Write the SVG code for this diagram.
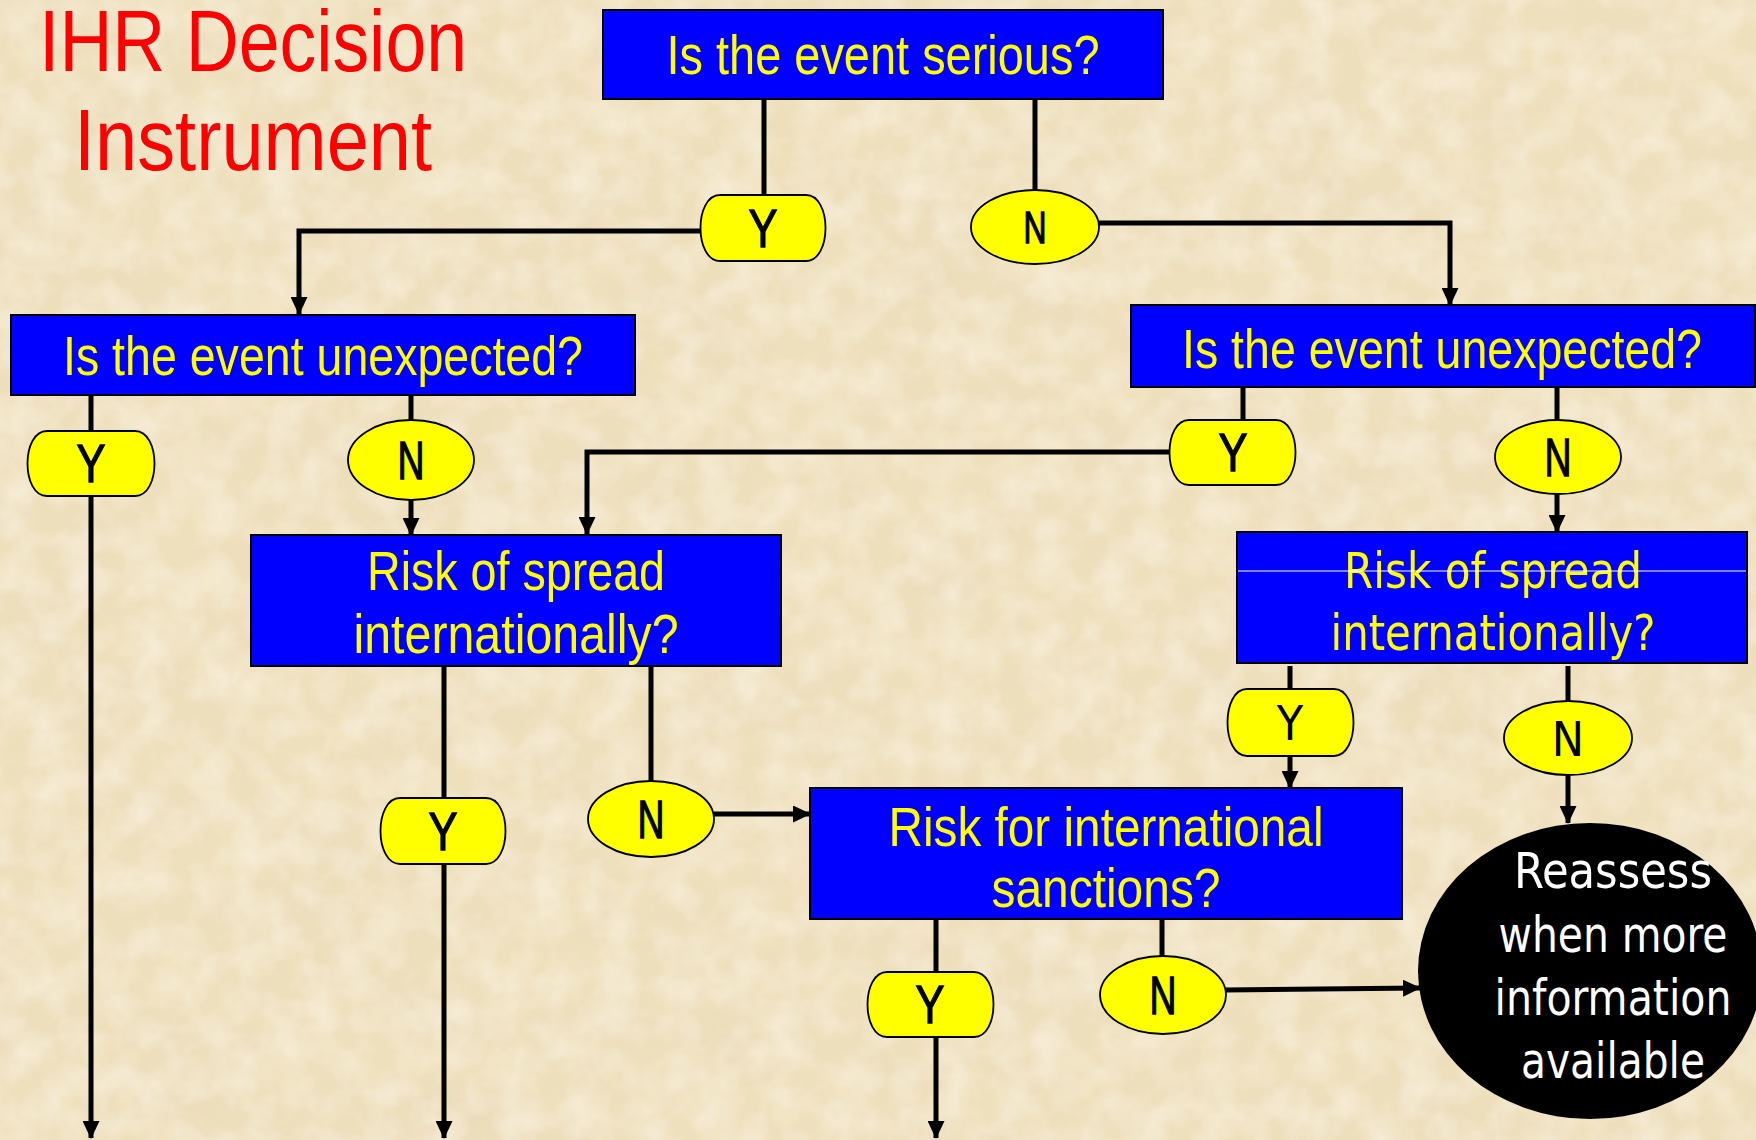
<svg xmlns="http://www.w3.org/2000/svg" width="1756" height="1140" viewBox="0 0 1756 1140">
<defs>
<filter id="paper" x="0" y="0" width="100%" height="100%">
<feTurbulence type="fractalNoise" baseFrequency="0.008 0.012" numOctaves="5" seed="7" result="n"/>
<feColorMatrix in="n" type="matrix" values="0 0 0 0 0.80  0 0 0 0 0.68  0 0 0 0 0.48  1.8 0 0 0 -0.72" result="dark"/>
<feTurbulence type="fractalNoise" baseFrequency="0.03" numOctaves="3" seed="11" result="n2"/>
<feColorMatrix in="n2" type="matrix" values="0 0 0 0 1  0 0 0 0 0.98  0 0 0 0 0.93  0 1.6 0 0 -0.55" result="light"/>
<feMerge><feMergeNode in="dark"/><feMergeNode in="light"/></feMerge>
</filter>
<marker id="arr" markerUnits="userSpaceOnUse" markerWidth="18" markerHeight="17" viewBox="0 0 18 17" refX="17" refY="8.5" orient="auto">
<path d="M0,0 L18,8.5 L0,17 z" fill="#000"/>
</marker>
<style>
.box{fill:#0000FF;stroke:#000;stroke-width:2}
.yn{fill:#FFFF00;stroke:#000;stroke-width:1.8}
.con{fill:none;stroke:#000;stroke-width:5}
.nar{font-family:'Liberation Sans Narrow','Arial Narrow','Liberation Sans',sans-serif}
.tah{font-family:'DejaVu Sans Condensed','DejaVu Sans','Liberation Sans',sans-serif}
.q{fill:#FFFF00;font-size:56px;text-anchor:middle}
.lab{fill:#000;font-size:53px;text-anchor:middle}
.lab.nar{stroke:#000;stroke-width:1.3}
.title{fill:#FF0000;font-size:88px;text-anchor:middle}
.re{fill:#FFFFFF;font-size:50px;text-anchor:middle}
</style>
</defs>
<rect width="1756" height="1140" fill="#EFE0BD"/>
<rect width="1756" height="1140" filter="url(#paper)" opacity="0.5"/>

<g id="title">
<text class="nar title" x="253" y="71" textLength="428" lengthAdjust="spacingAndGlyphs">IHR Decision</text>
<text class="nar title" x="253" y="170" textLength="358" lengthAdjust="spacingAndGlyphs">Instrument</text>
</g>

<g id="connectors">
<path class="con" d="M764,99 V195"/>
<path class="con" d="M700,231 H299 V314" marker-end="url(#arr)"/>
<path class="con" d="M1035,99 V190"/>
<path class="con" d="M1099,223 H1450 V305" marker-end="url(#arr)"/>
<path class="con" d="M91,395 V431"/>
<path class="con" d="M91,496 V1138" marker-end="url(#arr)"/>
<path class="con" d="M411,395 V420"/>
<path class="con" d="M411,500 V535" marker-end="url(#arr)"/>
<path class="con" d="M1243,387 V420"/>
<path class="con" d="M1169,452 H587 V534" marker-end="url(#arr)"/>
<path class="con" d="M1557,387 V421"/>
<path class="con" d="M1557,494 V532" marker-end="url(#arr)"/>
<path class="con" d="M444,666 V798"/>
<path class="con" d="M444,864 V1138" marker-end="url(#arr)"/>
<path class="con" d="M651,666 V781"/>
<path class="con" d="M714,814 H810" marker-end="url(#arr)"/>
<path class="con" d="M1290,666 V689"/>
<path class="con" d="M1290,756 V788" marker-end="url(#arr)"/>
<path class="con" d="M1568,666 V701"/>
<path class="con" d="M1568,776 V823" marker-end="url(#arr)"/>
<path class="con" d="M936,919 V972"/>
<path class="con" d="M936,1037 V1138" marker-end="url(#arr)"/>
<path class="con" d="M1162,919 V957"/>
<path class="con" d="M1225,990 L1420,988" marker-end="url(#arr)"/>
</g>

<g id="q-serious">
<rect class="box" x="603" y="10" width="560" height="89"/>
<text class="nar q" x="883" y="74" textLength="433" lengthAdjust="spacingAndGlyphs">Is the event serious?</text>
</g>
<g id="q-unexpected-left">
<rect class="box" x="11" y="315" width="624" height="80"/>
<text class="nar q" x="323" y="375" textLength="520" lengthAdjust="spacingAndGlyphs">Is the event unexpected?</text>
</g>
<g id="q-unexpected-right">
<rect class="box" x="1131" y="305" width="624" height="82"/>
<text class="nar q" x="1442" y="368" textLength="520" lengthAdjust="spacingAndGlyphs">Is the event unexpected?</text>
</g>
<g id="q-spread-left">
<rect class="box" x="251" y="535" width="530" height="131"/>
<text class="nar q" x="516" y="590" textLength="298" lengthAdjust="spacingAndGlyphs">Risk of spread</text>
<text class="nar q" x="516" y="653" textLength="325" lengthAdjust="spacingAndGlyphs">internationally?</text>
</g>
<g id="q-spread-right">
<rect class="box" x="1237" y="532" width="510" height="131"/>
<text class="tah q" style="font-size:50px" x="1493" y="588" textLength="298" lengthAdjust="spacingAndGlyphs">Risk of spread</text>
<text class="tah q" style="font-size:50px" x="1493" y="650" textLength="325" lengthAdjust="spacingAndGlyphs">internationally?</text>
<line x1="1238" y1="571" x2="1746" y2="571" stroke="#FFFFFF" stroke-width="1"/>
</g>
<g id="q-sanctions">
<rect class="box" x="810" y="788" width="592" height="131"/>
<text class="nar q" x="1106" y="846" textLength="435" lengthAdjust="spacingAndGlyphs">Risk for international</text>
<text class="nar q" x="1106" y="907" textLength="229" lengthAdjust="spacingAndGlyphs">sanctions?</text>
</g>

<g id="y-serious">
<path class="yn" d="M720,195 H806 C832,195 832,261 806,261 H720 C694,261 694,195 720,195 Z"/>
<text class="nar lab" x="763" y="247" textLength="29" lengthAdjust="spacingAndGlyphs">Y</text>
</g>
<g id="n-serious">
<ellipse class="yn" cx="1035" cy="227" rx="64" ry="37"/>
<text class="nar lab" style="font-size:44px" x="1035" y="243" textLength="23" lengthAdjust="spacingAndGlyphs">N</text>
</g>
<g id="y-unexp-left">
<path class="yn" d="M47,431 H135 C161,431 161,496 135,496 H47 C21,496 21,431 47,431 Z"/>
<text class="nar lab" x="91" y="482" textLength="29" lengthAdjust="spacingAndGlyphs">Y</text>
</g>
<g id="n-unexp-left">
<ellipse class="yn" cx="411" cy="460" rx="63" ry="40"/>
<text class="nar lab" x="411" y="479" textLength="27" lengthAdjust="spacingAndGlyphs">N</text>
</g>
<g id="y-unexp-right">
<path class="yn" d="M1189,420 H1276 C1302,420 1302,485 1276,485 H1189 C1163,485 1163,420 1189,420 Z"/>
<text class="nar lab" x="1233" y="471" textLength="29" lengthAdjust="spacingAndGlyphs">Y</text>
</g>
<g id="n-unexp-right">
<ellipse class="yn" cx="1558" cy="457" rx="63" ry="37"/>
<text class="nar lab" x="1558" y="476" textLength="27" lengthAdjust="spacingAndGlyphs">N</text>
</g>
<g id="y-spread-left">
<path class="yn" d="M400,798 H486 C512,798 512,864 486,864 H400 C374,864 374,798 400,798 Z"/>
<text class="nar lab" x="443" y="850" textLength="29" lengthAdjust="spacingAndGlyphs">Y</text>
</g>
<g id="n-spread-left">
<ellipse class="yn" cx="651" cy="819" rx="63" ry="38"/>
<text class="nar lab" x="651" y="838" textLength="27" lengthAdjust="spacingAndGlyphs">N</text>
</g>
<g id="y-spread-right">
<path class="yn" d="M1247,689 H1334 C1360,689 1360,756 1334,756 H1247 C1221,756 1221,689 1247,689 Z"/>
<text class="tah lab" style="font-size:48px" x="1290" y="740">Y</text>
</g>
<g id="n-spread-right">
<ellipse class="yn" cx="1568" cy="738" rx="64" ry="37"/>
<text class="tah lab" style="font-size:48px" x="1568" y="756">N</text>
</g>
<g id="y-sanctions">
<path class="yn" d="M887,972 H974 C1000,972 1000,1037 974,1037 H887 C861,1037 861,972 887,972 Z"/>
<text class="nar lab" x="930" y="1023" textLength="29" lengthAdjust="spacingAndGlyphs">Y</text>
</g>
<g id="n-sanctions">
<ellipse class="yn" cx="1163" cy="995" rx="63" ry="39"/>
<text class="nar lab" x="1163" y="1014" textLength="27" lengthAdjust="spacingAndGlyphs">N</text>
</g>

<g id="reassess">
<ellipse cx="1590" cy="971" rx="172" ry="148" fill="#000"/>
<text class="tah re" x="1613" y="888" textLength="198" lengthAdjust="spacingAndGlyphs">Reassess</text>
<text class="tah re" x="1613" y="952" textLength="229" lengthAdjust="spacingAndGlyphs">when more</text>
<text class="tah re" x="1613" y="1015" textLength="237" lengthAdjust="spacingAndGlyphs">information</text>
<text class="tah re" x="1613" y="1078" textLength="184" lengthAdjust="spacingAndGlyphs">available</text>
</g>
</svg>
